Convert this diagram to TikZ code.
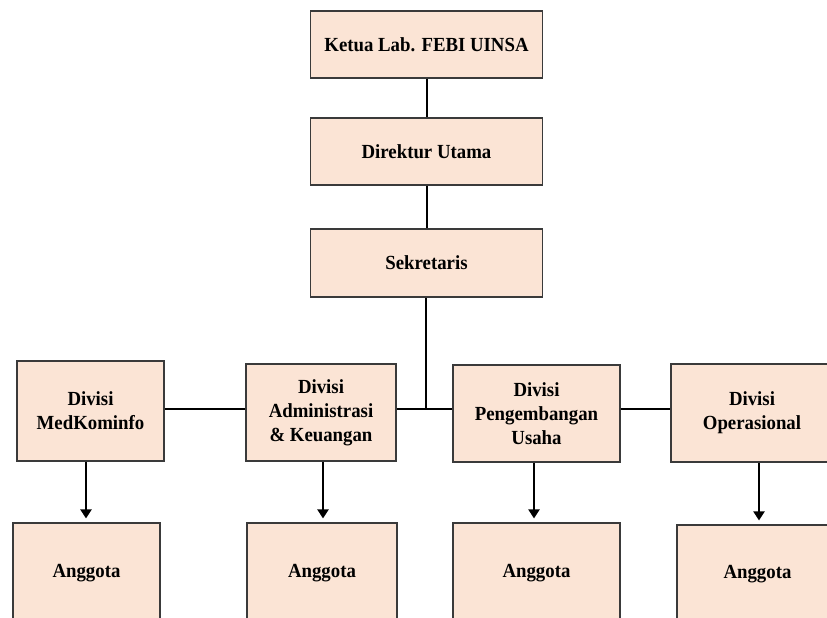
\documentclass[tikz,border=0pt]{standalone}
\usepackage{fontspec}
\setmainfont{Liberation Serif}[FakeStretch=0.94]
\usetikzlibrary{arrows.meta}
\definecolor{boxfill}{HTML}{FBE4D5}
\definecolor{boxline}{HTML}{3A3A3A}
\tikzset{
  unit/.style={draw=boxline, line width=1.1pt, fill=boxfill, inner sep=0pt,
    align=center, font=\fontsize{20}{24}\selectfont\bfseries},
  link/.style={draw=black, line width=2pt},
  down/.style={draw=black, line width=2pt,
    -{Triangle[width=11pt,length=9pt]}, shorten >=4pt},
}
\begin{document}
\begin{tikzpicture}[x=1pt, y=-1pt]
\useasboundingbox (0,0) rectangle (827,618);
\clip (0,0) rectangle (827,618);

% top of the hierarchy
\node[unit, minimum width=232pt, minimum height=67pt] (ketua) at (426.5,44.5) {Ketua Lab. FEBI UINSA};
\node[unit, minimum width=232pt, minimum height=67pt] (dir) at (426.5,151.5) {Direktur Utama};
\node[unit, minimum width=232pt, minimum height=68pt] (sek) at (426.5,263) {Sekretaris};

% divisions
\node[unit, minimum width=147pt, minimum height=100pt] (med) at (90.5,411) {Divisi\\MedKominfo};
\node[unit, minimum width=150pt, minimum height=97pt] (adm) at (321,412.5) {Divisi\\Administrasi\\\& Keuangan};
\node[unit, minimum width=167pt, minimum height=97pt] (peng) at (536.5,413.5) {Divisi\\Pengembangan\\Usaha};
\node[unit, minimum width=162pt, minimum height=98pt] (ops) at (752,413) {Divisi\\Operasional};

% members
\node[unit, minimum width=147pt, minimum height=100pt] (ag1) at (86.5,573) {Anggota};
\node[unit, minimum width=150pt, minimum height=100pt] (ag2) at (322,573) {Anggota};
\node[unit, minimum width=167pt, minimum height=100pt] (ag3) at (536.5,573) {Anggota};
\node[unit, minimum width=161pt, minimum height=98pt] (ag4) at (757.5,574) {Anggota};

% reporting lines
\coordinate (join) at (426,409);
\draw[link] (ketua) -- (dir);
\draw[link] (dir) -- (sek);
\draw[link] (sek.south -| join) -- (join);
\draw[link] (med.east |- join) -- (adm.west |- join);
\draw[link] (adm.east |- join) -- (peng.west |- join);
\draw[link] (peng.east |- join) -- (ops.west |- join);

% division to member arrows
\coordinate (x1) at (86,0);
\coordinate (x2) at (323,0);
\coordinate (x3) at (534,0);
\coordinate (x4) at (759,0);
\draw[down] (med.south -| x1) -- (ag1.north -| x1);
\draw[down] (adm.south -| x2) -- (ag2.north -| x2);
\draw[down] (peng.south -| x3) -- (ag3.north -| x3);
\draw[down] (ops.south -| x4) -- (ag4.north -| x4);
\end{tikzpicture}
\end{document}
